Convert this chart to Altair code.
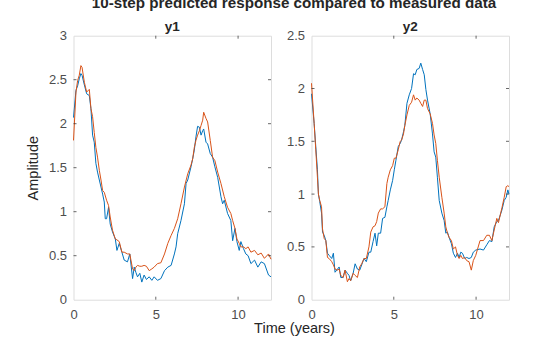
import altair as alt
import pandas as pd

# ---------------- data ----------------
t_y1_meas = [0, 0.15, 0.25, 0.35, 0.45, 0.52, 0.66, 0.8, 0.96, 1.06, 1.16, 1.26, 1.36, 1.46, 1.57, 1.67, 1.77, 1.87, 1.93, 2.01,
             2.13, 2.23, 2.37, 2.54, 2.64, 2.78, 2.94, 3.08, 3.28, 3.42, 3.59, 3.69, 3.79, 3.89, 4.03, 4.15, 4.29, 4.43, 4.6, 4.76,
             4.9, 5.1, 5.31, 5.53, 5.73, 5.93, 6.13, 6.23, 6.33, 6.53, 6.74, 6.84, 6.94, 7.14, 7.24, 7.34, 7.44, 7.54, 7.65, 7.75,
             7.85, 7.91, 8.05, 8.15, 8.31, 8.45, 8.59, 8.76, 8.96, 9.06, 9.16, 9.36, 9.56, 9.67, 9.81, 9.93, 10.07, 10.17, 10.33, 10.47,
             10.61, 10.78, 11.0, 11.2, 11.4, 11.6, 11.85, 12.0]
v_y1_meas = [2.07, 2.38, 2.43, 2.51, 2.57, 2.55, 2.44, 2.34, 2.32, 2.17, 1.87, 1.79, 1.55, 1.45, 1.36, 1.28, 1.2, 1.11, 0.92, 0.92,
             1.05, 0.86, 0.77, 0.69, 0.56, 0.64, 0.54, 0.45, 0.43, 0.52, 0.24, 0.37, 0.31, 0.26, 0.3, 0.2, 0.28, 0.23, 0.26, 0.22,
             0.26, 0.22, 0.24, 0.33, 0.37, 0.39, 0.52, 0.6, 0.75, 0.9, 1.09, 1.32, 1.36, 1.51, 1.6, 1.7, 1.85, 1.97, 1.96, 1.87,
             1.92, 1.94, 1.79, 1.77, 1.66, 1.62, 1.51, 1.39, 1.17, 1.09, 1.13, 0.98, 0.9, 0.67, 0.81, 0.66, 0.56, 0.66, 0.58, 0.52,
             0.5, 0.41, 0.45, 0.37, 0.43, 0.41, 0.28, 0.26]

t_y1_pred = [0, 0.15, 0.25, 0.35, 0.45, 0.52, 0.66, 0.8, 0.96, 1.06, 1.16, 1.26, 1.36, 1.46, 1.57, 1.67, 1.77, 1.87,
             2.01, 2.13, 2.23, 2.37, 2.54, 2.64, 2.78, 2.94, 3.08, 3.28, 3.42, 3.59, 3.69, 3.79, 3.89, 4.03, 4.15, 4.29, 4.43, 4.6,
             4.76, 4.9, 5.1, 5.31, 5.53, 5.73, 5.93, 6.13, 6.33, 6.53, 6.74, 6.94, 7.14, 7.24, 7.34, 7.44, 7.54, 7.65, 7.75, 7.85,
             7.91, 8.05, 8.15, 8.31, 8.45, 8.59, 8.76, 8.96, 9.16, 9.36, 9.56, 9.67, 9.81, 9.93, 10.07, 10.17, 10.33, 10.47, 10.61, 10.78,
             11.0, 11.2, 11.4, 11.6, 11.85, 12.0]
v_y1_pred = [1.81, 2.36, 2.49, 2.55, 2.66, 2.64, 2.47, 2.36, 2.39, 2.17, 2.08, 1.9, 1.73, 1.62, 1.47, 1.36, 1.24, 1.22,
             1.13, 1.07, 0.94, 0.79, 0.69, 0.68, 0.66, 0.54, 0.54, 0.52, 0.52, 0.35, 0.33, 0.37, 0.39, 0.38, 0.38, 0.39, 0.38, 0.33,
             0.35, 0.37, 0.41, 0.42, 0.52, 0.64, 0.73, 0.81, 0.92, 1.09, 1.28, 1.43, 1.53, 1.6, 1.73, 1.81, 1.87, 1.92, 1.98, 2.04,
             2.13, 2.06, 2.02, 1.81, 1.62, 1.58, 1.45, 1.32, 1.17, 1.05, 0.98, 0.9, 0.81, 0.69, 0.64, 0.6, 0.6, 0.58, 0.6, 0.54,
             0.56, 0.51, 0.53, 0.47, 0.52, 0.46]

t_y2 = [0, 0.16, 0.26, 0.36, 0.42, 0.5, 0.61, 0.67, 0.77, 0.87, 0.97, 1.07, 1.23, 1.33, 1.43, 1.58, 1.68, 1.78, 1.92, 2.04,
        2.18, 2.28, 2.38, 2.53, 2.65, 2.79, 2.93, 3.05, 3.19, 3.33, 3.49, 3.6, 3.74, 3.86, 3.96, 4.06, 4.2, 4.32, 4.46, 4.58,
        4.66, 4.79, 4.93, 5.03, 5.13, 5.27, 5.39, 5.47, 5.59, 5.67, 5.8, 5.94, 6.08, 6.2, 6.3, 6.4, 6.54, 6.64, 6.75, 6.85,
        6.95, 7.05, 7.21, 7.35, 7.45, 7.55, 7.65, 7.76, 7.92, 8.06, 8.16, 8.26, 8.36, 8.5, 8.62, 8.75, 8.87, 8.97, 9.07, 9.17,
        9.31, 9.43, 9.57, 9.71, 9.83, 9.98, 10.24, 10.45, 10.65, 10.81, 10.96, 11.1, 11.26, 11.36, 11.57, 11.71, 11.83, 11.93, 12.0]
v_y2_meas = [1.95, 1.67, 1.45, 1.23, 1.0, 0.93, 0.82, 0.64, 0.61, 0.56, 0.44, 0.42, 0.39, 0.44, 0.26, 0.29, 0.31, 0.21, 0.21, 0.28,
             0.25, 0.23, 0.18, 0.25, 0.34, 0.29, 0.28, 0.33, 0.39, 0.36, 0.45, 0.45, 0.55, 0.63, 0.51, 0.63, 0.63, 0.77, 0.78, 0.88,
             0.94, 1.04, 1.13, 1.23, 1.32, 1.45, 1.48, 1.51, 1.59, 1.65, 1.86, 1.94, 2.0, 2.14, 2.13, 2.18, 2.19, 2.24, 2.18, 2.13,
             1.99, 1.89, 1.76, 1.57, 1.4, 1.35, 1.16, 0.94, 0.82, 0.75, 0.63, 0.64, 0.59, 0.53, 0.44, 0.4, 0.44, 0.4, 0.45, 0.44,
             0.39, 0.4, 0.39, 0.4, 0.45, 0.47, 0.48, 0.47, 0.52, 0.56, 0.55, 0.69, 0.74, 0.75, 0.85, 0.94, 0.97, 1.04, 1.0]
v_y2_pred = [2.05, 1.67, 1.42, 1.16, 1.0, 0.94, 0.88, 0.67, 0.58, 0.56, 0.4, 0.39, 0.36, 0.33, 0.29, 0.28, 0.29, 0.23, 0.21, 0.28,
             0.17, 0.2, 0.18, 0.25, 0.23, 0.21, 0.31, 0.34, 0.39, 0.39, 0.5, 0.64, 0.69, 0.7, 0.74, 0.82, 0.86, 0.86, 0.88, 1.1,
             1.16, 1.23, 1.27, 1.34, 1.34, 1.42, 1.5, 1.51, 1.57, 1.65, 1.75, 1.84, 1.87, 1.94, 1.89, 1.91, 1.89, 1.86, 1.83, 1.89,
             1.89, 1.81, 1.76, 1.67, 1.56, 1.48, 1.32, 1.16, 0.97, 0.82, 0.69, 0.63, 0.59, 0.56, 0.48, 0.5, 0.42, 0.39, 0.42, 0.39,
             0.4, 0.37, 0.36, 0.28, 0.37, 0.42, 0.56, 0.56, 0.61, 0.61, 0.56, 0.66, 0.77, 0.73, 0.87, 0.97, 1.07, 1.08, 1.07]

x_ticks = [0, 5, 10]
y1_ticks = [0, 0.5, 1, 1.5, 2, 2.5, 3]
y2_ticks = [0, 0.5, 1, 1.5, 2, 2.5]

main_title = "10-step predicted response compared to measured data"
panel_titles = ["y1", "y2"]
x_title = "Time (years)"
y_title = "Amplitude"

# ---------------- styling ----------------
BLUE = "#0072BD"
ORANGE = "#D95319"
AXC = "#262626"
LABC = "#4d4d4d"
FONT = "Liberation Sans"
W, H = 197.5, 264
TICK = 3


def panel(t_m, v_m, t_p, v_p, yticks, title, left):
    xs = alt.Scale(domain=[0, 12], nice=False, zero=False)
    ys = alt.Scale(domain=[0, yticks[-1]], nice=False)
    xkw = dict(values=x_ticks, format="~r", ticks=False, domain=False, grid=False, labelFlush=False,
               labelPadding=9, labelFontSize=13, labelColor=LABC, labelFont=FONT)
    ykw = dict(values=yticks, format="~r", ticks=False, domain=False, grid=False, labelFlush=False,
               labelPadding=7, labelFontSize=13, labelColor=LABC, labelFont=FONT)
    if left:
        xkw.update(title=x_title, titleX=220.5, titleY=32.4, titleBaseline="alphabetic", titleFontSize=14.5,
                   titleFontWeight="normal", titleColor=AXC, titleFont=FONT)
        ykw.update(title=y_title, titleX=-40.5, titleBaseline="middle", titleFontSize=14.5,
                   titleFontWeight="normal", titleColor=AXC, titleFont=FONT)
    else:
        xkw.update(title="")
        ykw.update(title="")
    xa = alt.Axis(**xkw)
    ya = alt.Axis(**ykw)
    dm = pd.DataFrame({"t": t_m, "v": v_m, "o": list(range(len(t_m)))})
    dp = pd.DataFrame({"t": t_p, "v": v_p, "o": list(range(len(t_p)))})
    X = alt.X("t:Q", scale=xs, axis=xa)
    Y = alt.Y("v:Q", scale=ys, axis=ya)
    lm = alt.Chart(dm).mark_line(color=BLUE, strokeWidth=1).encode(x=X, y=Y, order="o:Q")
    lp = alt.Chart(dp).mark_line(color=ORANGE, strokeWidth=1).encode(x=X, y=Y, order="o:Q")
    xt = pd.DataFrame({"t": x_ticks[1:]})
    yt = pd.DataFrame({"v": yticks[1:-1]})
    tb = alt.Chart(xt).mark_rule(color=AXC, strokeWidth=0.7).encode(
        x=X, y=alt.value(H), y2=alt.value(H - TICK))
    tt = alt.Chart(xt).mark_rule(color=AXC, strokeWidth=0.7).encode(
        x=X, y=alt.value(0), y2=alt.value(TICK))
    tl = alt.Chart(yt).mark_rule(color=AXC, strokeWidth=0.7).encode(
        y=Y, x=alt.value(0), x2=alt.value(TICK))
    tr = alt.Chart(yt).mark_rule(color=AXC, strokeWidth=0.7).encode(
        y=Y, x=alt.value(W), x2=alt.value(W - TICK))
    return alt.layer(lm, lp, tb, tt, tl, tr).properties(
        width=W, height=H,
        title=alt.TitleParams(title, fontSize=13.5, fontWeight="bold", color=AXC, font=FONT, offset=-3.5))


left = panel(t_y1_meas, v_y1_meas, t_y1_pred, v_y1_pred, y1_ticks, panel_titles[0], True)
right = panel(t_y2, v_y2_meas, t_y2, v_y2_pred, y2_ticks, panel_titles[1], False)

chart = alt.hconcat(left, right, spacing=40, bounds="flush").properties(
    title=alt.TitleParams(main_title, fontSize=15.2, fontWeight="bold", color=AXC, font=FONT,
                          anchor="middle", offset=8, dx=26),
    autosize=alt.AutoSizeParams(type="none"),
    padding={"left": 73.5, "top": 35.7, "right": 560 - 73.5, "bottom": 337 - 35.7},
).configure_view(stroke="#555555", strokeWidth=1).configure(background="white")

chart.save("out.html", embed_options={"renderer": "svg", "actions": False})
